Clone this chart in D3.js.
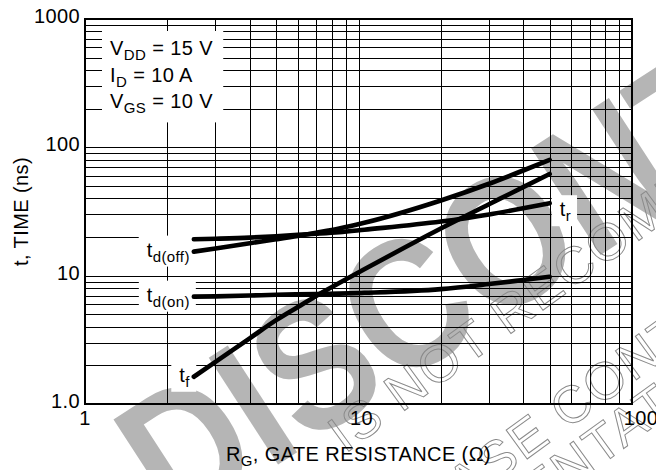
<!DOCTYPE html>
<html>
<head>
<meta charset="utf-8">
<script src="https://cdn.jsdelivr.net/npm/d3@7"></script>
<style>
  html, body { margin: 0; padding: 0; background: #fff; }
  svg { display: block; font-family: "Liberation Sans", Arial, Helvetica, sans-serif; }
  .lbl { letter-spacing: 0.4px; }
</style>
</head>
<body>
<svg id="chart" width="656" height="470"></svg>
<script>
// gate resistance (ohm) sample points
const rg = [2.5, 3, 4, 5, 6, 7, 8.5, 10.5, 20, 30, 40, 50];
const tdOff = [15.4, 16.3, 17.9, 19.2, 20.4, 21.6, 23.3, 25.8, 38.5, 52, 66, 80];
const tr = [19.2, 19.4, 19.8, 20.3, 20.8, 21.2, 21.8, 22.8, 26.4, 30, 33.5, 36.7];
const tdOn = [6.86, 6.9, 7.0, 7.1, 7.15, 7.2, 7.25, 7.35, 7.85, 8.6, 9.25, 9.8];
const tf = [1.63, 2.13, 3.25, 4.5, 5.7, 6.95, 8.75, 11.2, 23.3, 36, 49, 62];

const xTickValues = [1, 10, 100];
const xTickLabels = ['1', '10', '100'];
const yTickValues = [1, 10, 100, 1000];
const yTickLabels = ['1.0', '10', '100', '1000'];

const conditions = [['V', 'DD', ' = 15 V'], ['I', 'D', ' = 10 A'], ['V', 'GS', ' = 10 V']];

const series = [
  {name: 'd(off)', values: tdOff, side: 'start'},
  {name: 'r', values: tr, side: 'end'},
  {name: 'd(on)', values: tdOn, side: 'start'},
  {name: 'f', values: tf, side: 'start'}
];

const margin = {top: 19, right: 24, bottom: 66, left: 85};
const width = 656, height = 470;
const fs = 20, fsSub = 15;

const svg = d3.select('#chart');

const sx = d3.scaleLog().domain([1, 100]).range([margin.left, width - margin.right]);
const sy = d3.scaleLog().domain([1, 1000]).range([height - margin.bottom, margin.top]);

// watermark, behind everything
let wm = svg.append('g').attr('class', 'watermark');
wm.append('text')
  .attr('transform', 'translate(174,532) rotate(-33) scale(0.85,1)')
  .attr('font-size', 185).attr('font-weight', 'bold')
  .attr('fill', '#b5b5b5')
  .text('DISCONTINUED');
let notes = [
  {t: 'IS NOT RECOMMENDED', x: 345, y: 454},
  {t: 'PLEASE CONTACT', x: 380, y: 566},
  {t: 'REPRESENTATIVE', x: 355, y: 644}
];
wm.selectAll('text.note').data(notes).join('text')
  .attr('class', 'note')
  .attr('transform', d => `translate(${d.x},${d.y}) rotate(-36)`)
  .attr('font-size', 52).attr('letter-spacing', 2)
  .attr('fill', 'none').attr('stroke', '#8a8a8a').attr('stroke-width', 1)
  .text(d => d.t);

// grid
let grid = svg.append('g').attr('class', 'grid')
  .attr('stroke', '#000').attr('stroke-width', 1).attr('shape-rendering', 'crispEdges');
grid.selectAll('line.v').data(sx.ticks()).join('line')
  .attr('class', 'v')
  .attr('x1', d => Math.round(sx(d)) + 0.5).attr('x2', d => Math.round(sx(d)) + 0.5)
  .attr('y1', sy.range()[1]).attr('y2', sy.range()[0]);
grid.selectAll('line.h').data(sy.ticks()).join('line')
  .attr('class', 'h')
  .attr('y1', d => Math.round(sy(d)) + 0.5).attr('y2', d => Math.round(sy(d)) + 0.5)
  .attr('x1', sx.range()[0]).attr('x2', sx.range()[1]);

function subText(sel, main, sub, rest) {
  sel.classed('lbl', true);
  sel.append('tspan').attr('font-size', fs).text(main);
  sel.append('tspan').attr('font-size', fsSub).attr('dy', 5).text(sub);
  if (rest) sel.append('tspan').attr('font-size', fs).attr('dy', -5).text(rest);
}

function whiteBox(g, pad) {
  let b = g.node().getBBox();
  g.insert('rect', ':first-child')
    .attr('x', b.x - pad[3]).attr('y', b.y - pad[0])
    .attr('width', b.width + pad[1] + pad[3]).attr('height', b.height + pad[0] + pad[2])
    .attr('fill', '#fff');
}

// conditions box
let cond = svg.append('g').attr('class', 'conditions');
conditions.forEach((c, i) => {
  cond.append('text').attr('x', 110).attr('y', 55 + i * 26.7).call(subText, c[0], c[1], c[2]);
});
whiteBox(cond, [6, 10, 6, 8]);

// curves
let line = d3.line()
  .x(d => sx(d[0])).y(d => sy(d[1]))
  .curve(d3.curveMonotoneX);

let labels = svg.append('g').attr('class', 'labels');
series.forEach(s => {
  let pts = rg.map((r, i) => [r, s.values[i]]);
  let g = labels.append('g');
  let t;
  if (s.side === 'start') {
    let p = pts[0];
    t = g.append('text').attr('text-anchor', 'end')
      .attr('x', sx(p[0]) - 4).attr('y', sy(p[1]) + 5);
  } else {
    let p = pts[pts.length - 1];
    t = g.append('text')
      .attr('x', sx(p[0]) + 10).attr('y', sy(p[1]) + 13);
  }
  t.call(subText, 't', s.name);
  whiteBox(g, [3, 6, 2, 8]);
  s.pts = pts;
});

svg.append('g').attr('class', 'curves')
  .selectAll('path').data(series).join('path')
  .attr('d', d => line(d.pts))
  .attr('fill', 'none').attr('stroke', '#000')
  .attr('stroke-width', 4.6).attr('stroke-linecap', 'round');

// frame
svg.append('rect')
  .attr('x', sx.range()[0]).attr('y', sy.range()[1])
  .attr('width', sx.range()[1] - sx.range()[0])
  .attr('height', sy.range()[0] - sy.range()[1])
  .attr('fill', 'none').attr('stroke', '#000').attr('stroke-width', 2);

// tick labels
const xNudge = [0, 3, 9];
svg.append('g').selectAll('text').data(xTickValues).join('text')
  .attr('class', 'lbl')
  .attr('x', (d, i) => sx(d) + xNudge[i]).attr('y', 425)
  .attr('text-anchor', 'middle').attr('font-size', fs)
  .text((d, i) => xTickLabels[i]);
svg.append('g').selectAll('text').data(yTickValues).join('text')
  .attr('class', 'lbl')
  .attr('x', 80).attr('y', d => sy(d) + 4)
  .attr('text-anchor', 'end').attr('font-size', fs)
  .text((d, i) => yTickLabels[i]);

// axis titles
let xt = svg.append('text')
  .attr('x', (sx.range()[0] + sx.range()[1]) / 2).attr('y', 461)
  .attr('text-anchor', 'middle');
subText(xt, 'R', 'G', ', GATE RESISTANCE (\u03A9)');

svg.append('text')
  .attr('class', 'lbl')
  .attr('transform', `translate(28,${(sy.range()[0] + sy.range()[1]) / 2}) rotate(-90)`)
  .attr('text-anchor', 'middle').attr('font-size', fs)
  .text('t, TIME (ns)');
</script>
</body>
</html>
